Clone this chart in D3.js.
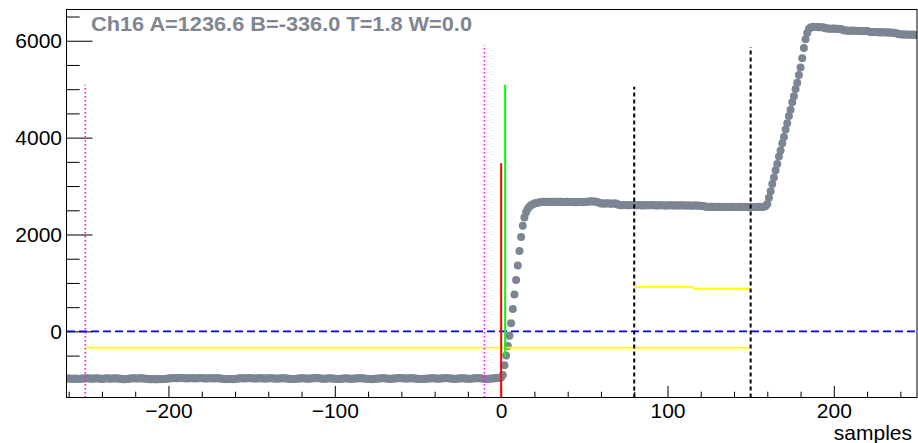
<!DOCTYPE html>
<html>
<head>
<meta charset="utf-8">
<script src="https://cdn.jsdelivr.net/npm/d3@7"></script>
<style>
  html, body { margin: 0; padding: 0; background: #fff; }
  svg { display: block; }
  text { font-family: "Liberation Sans", Arial, Helvetica, sans-serif; }
</style>
</head>
<body>
<svg id="chart" width="918" height="443"></svg>
<script>
// ---------------- data ----------------
const title = "Ch16 A=1236.6 B=-336.0 T=1.8 W=0.0";
const xLabel = "samples";
const firstSample = -261;
const lastSample = 250;
// ADC value of each sample, from sample -261 to sample 250
const adcValues = [
  -975,-972,-978,-980,-976,-973,-977,-981,-979,-974,
  -976,-970,-968,-972,-975,-978,-974,-971,-969,-973,
  -977,-980,-976,-972,-970,-974,-978,-975,-971,-968,
  -972,-975,-979,-985,-990,-987,-984,-978,-973,-970,
  -968,-971,-975,-974,-970,-969,-973,-977,-980,-983,
  -986,-988,-985,-987,-990,-986,-984,-988,-985,-982,
  -978,-973,-970,-966,-964,-967,-970,-968,-965,-963,
  -966,-969,-972,-970,-967,-965,-968,-971,-969,-966,
  -964,-967,-970,-973,-971,-968,-966,-969,-972,-970,
  -967,-969,-972,-976,-980,-984,-986,-983,-985,-981,
  -986,-982,-976,-971,-968,-966,-969,-972,-970,-967,
  -965,-968,-971,-974,-972,-969,-967,-970,-973,-975,
  -972,-969,-966,-968,-971,-974,-977,-975,-972,-969,
  -967,-970,-973,-976,-979,-982,-984,-981,-978,-975,
  -972,-970,-968,-971,-974,-977,-975,-972,-969,-966,
  -964,-967,-970,-973,-976,-978,-975,-972,-969,-971,
  -974,-977,-980,-983,-981,-978,-975,-972,-970,-973,
  -976,-979,-977,-974,-971,-968,-966,-969,-972,-975,
  -978,-981,-984,-986,-983,-980,-977,-974,-971,-969,
  -967,-970,-973,-976,-979,-977,-974,-971,-968,-966,
  -964,-967,-970,-973,-975,-972,-969,-967,-970,-973,
  -976,-979,-982,-985,-983,-980,-977,-974,-972,-970,
  -968,-971,-974,-977,-975,-972,-969,-967,-965,-968,
  -971,-974,-977,-980,-978,-975,-972,-970,-968,-971,
  -974,-977,-979,-976,-973,-970,-968,-966,-969,-972,
  -975,-978,-981,-979,-976,-973,-971,-969,-967,-965,
  -962,-950,
  -900,-700,-500,-300,-90,170,460,760,1060,1360,1660,1950,
  2180,2350,2460,2530,2575,2605,2625,2640,2650,2658,2665,2670,
  2674,2676,2673,2677,2675,2672,2676,2678,2674,2671,2675,2677,2673,2670,2674,2676,
  2672,2669,2671,2668,2666,2670,2673,2671,2668,2672,2675,2678,2682,2685,2683,2680,2676,2668,2655,
  2642,2640,2638,2641,2643,2639,2637,2640,2642,2638,2625,
  2608,2606,2604,2607,2609,2605,2603,2606,2608,2604,
  2602,2605,2607,2604,2601,2603,2606,2604,2602,2605,
  2607,2604,2601,2599,2602,2605,2603,2600,2598,2601,
  2604,2602,2599,2601,2603,2600,2597,2599,2602,2600,
  2597,2599,2601,2598,2596,2599,2601,2598,2595,2593,2590,2582,
  2573,2571,2569,2572,2574,2570,2568,2571,2573,2569,
  2567,2570,2572,2569,2566,2568,2571,2569,2567,2570,
  2572,2568,2566,2569,2571,2568,2565,2567,2570,2568,
  2566,2569,2571,2568,2570,2574,
  2590,2630,2760,2895,3045,3175,3325,3455,3610,3735,3885,4015,4170,4295,
  4445,4575,4730,4855,5005,5135,5295,5450,5640,5850,6030,6160,6240,6272,6285,
  6288,6285,6282,6280,6278,6276,6272,
  6258,6255,6252,6250,6248,6251,6249,6246,6244,6240,6232,
  6215,6212,6210,6208,6206,6209,6207,6204,6202,6205,6203,6200,6198,6201,6199,6190,
  6180,6178,6176,6179,6177,6174,6172,6175,6173,6170,6168,6171,6169,6166,6164,6160,6150,
  6135,6132,6130,6128,6131,6129,6126,6124,6127,6125,6122,6120
];
const sampleNumbers = d3.range(firstSample, lastSample + 1);

// baseline (B) and amplitude-window levels
const baselineLevel = -336;
const baselineWindow = [-250, 150];
const amplitudeSegments = [
  { x0: 80, x1: 115.5, y: 920 },
  { x0: 115.5, x1: 150, y: 880 }
];
// vertical markers: [x, top value]
const pinkLines = [[-250, 5090], [-10, 5910]];
const blackLines = [[80, 5050], [150, 5870]];
const redLine = [0, 3470];
const greenLine = [2.4, -520, 5090];
const zeroLevel = 0;

const xDomain = [-261, 250];
const yDomain = [-1365, 6645];
const xMajorTicks = [-200, -100, 0, 100, 200];
const xMinorTicks = [-260,-240,-220,-180,-160,-140,-120,-80,-60,-40,-20,20,40,60,80,120,140,160,180,220,240];
const yMajorTicks = [0, 2000, 4000, 6000];
const yMinorTicks = [-1000,-500,500,1000,1500,2500,3000,3500,4500,5000,5500,6500];

// ---------------- drawing ----------------
const svg = d3.select("#chart");
const L = 67, R = 917, T = 9.5, B = 397.5;
const x = d3.scaleLinear().domain(xDomain).range([L, R]);
const y = d3.scaleLinear().domain(yDomain).range([B, T]);

svg.append("defs").append("clipPath").attr("id", "frameClip")
  .append("rect").attr("x", L).attr("y", T).attr("width", R - L).attr("height", B - T);

// axes
const fontSize = 21;
const fmt = d3.format("d");
const xAxisMajor = d3.axisBottom(x).tickValues(xMajorTicks).tickFormat(fmt).tickSizeInner(-11.6).tickSizeOuter(0).tickPadding(6);
const xAxisMinor = d3.axisBottom(x).tickValues(xMinorTicks).tickSizeInner(-5.8).tickSizeOuter(0).tickFormat("");
const yAxisMajor = d3.axisLeft(y).tickValues(yMajorTicks).tickFormat(fmt).tickSizeInner(-25.5).tickSizeOuter(0).tickPadding(5);
const yAxisMinor = d3.axisLeft(y).tickValues(yMinorTicks).tickSizeInner(-12.7).tickSizeOuter(0).tickFormat("");

function styleAxis(g) {
  g.select(".domain").remove();
  g.selectAll("line").attr("stroke", "#000").attr("stroke-width", 1);
  g.selectAll("text").attr("fill", "#000").style("font-size", fontSize + "px")
    .style("font-family", "'Liberation Sans', Arial, Helvetica, sans-serif");
}
svg.append("g").attr("transform", `translate(0,${B})`).call(xAxisMinor).call(styleAxis);
svg.append("g").attr("transform", `translate(0,${B})`).call(xAxisMajor).call(styleAxis);
svg.append("g").attr("transform", `translate(${L},0)`).call(yAxisMinor).call(styleAxis);
svg.append("g").attr("transform", `translate(${L},0)`).call(yAxisMajor).call(styleAxis);

const plot = svg.append("g").attr("clip-path", "url(#frameClip)");

// waveform markers
plot.append("g").selectAll("circle")
  .data(sampleNumbers.map((s, i) => [s, adcValues[i]]))
  .join("circle")
  .attr("cx", d => x(d[0]))
  .attr("cy", d => y(d[1]))
  .attr("r", 4)
  .attr("fill", "#7c8593");

// zero level
plot.append("line")
  .attr("x1", x(xDomain[0])).attr("x2", x(xDomain[1]))
  .attr("y1", y(zeroLevel)).attr("y2", y(zeroLevel))
  .attr("stroke", "#0000ff").attr("stroke-width", 1.8).attr("stroke-dasharray", "8,4");

// baseline
plot.append("line")
  .attr("x1", x(baselineWindow[0])).attr("x2", x(baselineWindow[1]))
  .attr("y1", y(baselineLevel)).attr("y2", y(baselineLevel))
  .attr("stroke", "#ffff00").attr("stroke-width", 1.8);

// amplitude window
const ampPath = d3.line().x(d => x(d[0])).y(d => y(d[1])).curve(d3.curveLinear);
const ampPts = [];
amplitudeSegments.forEach(s => { ampPts.push([s.x0, s.y]); ampPts.push([s.x1, s.y]); });
plot.append("path").attr("d", ampPath(ampPts))
  .attr("fill", "none").attr("stroke", "#ffff00").attr("stroke-width", 1.8);

// pink dotted window lines
pinkLines.forEach(([xv, top]) => {
  plot.append("line")
    .attr("x1", x(xv)).attr("x2", x(xv)).attr("y1", B).attr("y2", y(top))
    .attr("stroke", "#ff00ff").attr("stroke-width", 1.6).attr("stroke-dasharray", "1.6,2.4");
});
// black dashed window lines
blackLines.forEach(([xv, top]) => {
  plot.append("line")
    .attr("x1", x(xv)).attr("x2", x(xv)).attr("y1", B).attr("y2", y(top))
    .attr("stroke", "#000").attr("stroke-width", 2).attr("stroke-dasharray", "4,3");
});
// red & green markers
plot.append("line")
  .attr("x1", x(redLine[0])).attr("x2", x(redLine[0])).attr("y1", B).attr("y2", y(redLine[1]))
  .attr("stroke", "#ff0000").attr("stroke-width", 2);
plot.append("line")
  .attr("x1", x(greenLine[0])).attr("x2", x(greenLine[0])).attr("y1", y(greenLine[1])).attr("y2", y(greenLine[2]))
  .attr("stroke", "#00ff00").attr("stroke-width", 2);

// frame
svg.append("rect")
  .attr("x", L - 0.5).attr("y", T).attr("width", R - L + 0.5).attr("height", B - T)
  .attr("fill", "none").attr("stroke", "#000").attr("stroke-width", 1);

// title
svg.append("text")
  .attr("x", 91).attr("y", 31)
  .attr("fill", "#7f8692")
  .attr("textLength", 381).attr("lengthAdjust", "spacingAndGlyphs")
  .style("font-weight", "bold").style("font-size", "21px")
  .text(title);

// x label
svg.append("text")
  .attr("x", 912).attr("y", 440)
  .attr("text-anchor", "end")
  .attr("fill", "#000")
  .style("font-size", fontSize + "px")
  .text(xLabel);
</script>
</body>
</html>
